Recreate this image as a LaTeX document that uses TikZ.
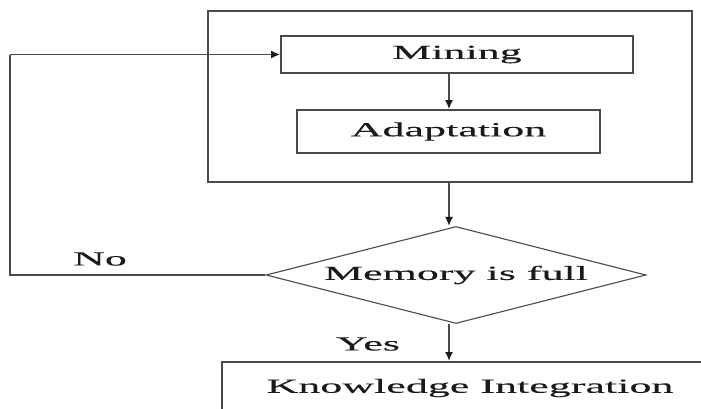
\documentclass[tikz,border=0pt]{standalone}
\usepackage{fontspec}
\usetikzlibrary{shapes.geometric,arrows.meta}
% Times-like serif, set wide
\newfontfamily\wideserif[FakeStretch=2.2,FakeBold=0.2]{Liberation Serif}
\definecolor{edge}{HTML}{4A4A4A}
\definecolor{ink}{HTML}{1A1A1A}
\tikzset{
  boxline/.style={draw=edge, line width=1.7pt},
  label text/.style={text=ink, font=\wideserif\fontsize{20}{24}\selectfont, inner sep=0pt},
  stepbox/.style={boxline, label text, rectangle},
  flow/.style={draw=edge, line width=1.7pt, -{Latex[length=9pt,width=8pt,color=ink]}},
  plainline/.style={draw=edge, line width=1.7pt}
}
\begin{document}
\begin{tikzpicture}[x=1pt,y=-1pt]
  \useasboundingbox (0,0) rectangle (701,408);
  \clip (0,0) rectangle (701,408);
  \fill[white] (0,0) rectangle (701,408);

  % outer block holding the two inner steps
  \draw[boxline] (208,11) rectangle (692,182);
  \coordinate (outerS) at (449,182);

  \node[stepbox, minimum width=352pt, minimum height=37pt] (mining) at (457,54.5) {Mining};
  \node[stepbox, minimum width=303pt, minimum height=43pt] (adapt) at (448.5,131.5) {Adaptation};

  % decision
  \node[boxline, line width=1.1pt, label text, shape=diamond, aspect=4, minimum width=380pt, minimum height=97pt]
    (full) at (456,275) {Memory is full};

  % final step (runs past the lower right edge)
  \node[stepbox, minimum width=500pt, minimum height=60pt, anchor=north west] (ki) at (221,361) {};
  \node[label text] (kitext) at (470,388) {Knowledge Integration};

  % column of the main flow
  \coordinate (axis) at (449,0);
  \coordinate (loopL) at (10,275);
  \coordinate (loopT) at (10,54.5);

  \draw[flow] (mining.south -| axis) -- (adapt.north -| axis);
  \draw[flow] (outerS) -- (full.north -| axis);
  \draw[flow] (full.south -| axis) -- (ki.north -| axis);

  % "No" branch back to Mining
  \draw[plainline] (full.west) -- (loopL) -- (loopT);
  \draw[flow] (loopT) -- (mining.west);

  \node[label text] (no) at (100,259) {No};
  \node[label text] (yes) at (368,344) {Yes};
\end{tikzpicture}
\end{document}
